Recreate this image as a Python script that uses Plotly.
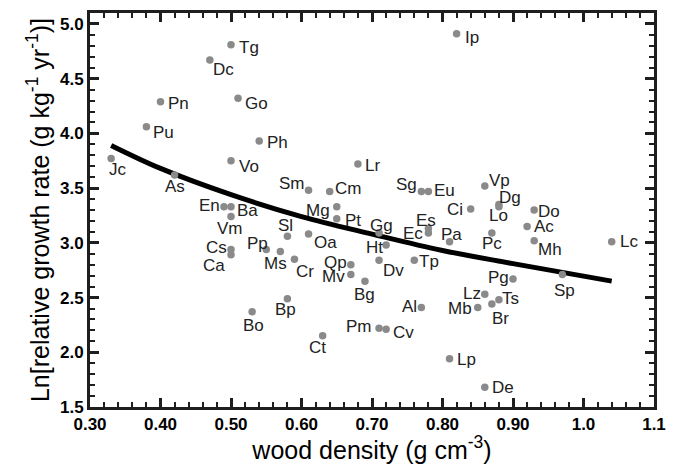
import plotly.graph_objects as go

# ---- data ----
species = ["Jc","Pu","Pn","As","Dc","En","Tg","Vo","Ba","Vm","Cs","Ca","Go","Bo","Ph",
           "Pp","Ms","Sl","Bp","Cr","Sm","Oa","Ct","Cm","Mg","Pt","Qp","Mv","Lr","Bg",
           "Gg","Dv","Pm","Ht","Cv","Tp","Sg","Al","Eu","Es","Ec","Pa","Lp","Ip","Ci",
           "Mb","Vp","Lz","De","Pc","Br","Dg","Lo","Ts","Pg","Ac","Do","Mh","Sp","Lc"]
wood_density = [0.33,0.38,0.40,0.42,0.47,0.49,0.50,0.50,0.50,0.50,0.50,0.50,0.51,0.53,0.54,
                0.55,0.57,0.58,0.58,0.59,0.61,0.61,0.63,0.64,0.65,0.65,0.67,0.67,0.68,0.69,
                0.71,0.71,0.71,0.72,0.72,0.76,0.77,0.77,0.78,0.78,0.78,0.81,0.81,0.82,0.84,
                0.85,0.86,0.86,0.86,0.87,0.87,0.88,0.88,0.88,0.90,0.92,0.93,0.93,0.97,1.04]
ln_rgr = [3.77,4.06,4.29,3.62,4.67,3.33,4.81,3.75,3.33,3.24,2.94,2.89,4.32,2.37,3.93,
          2.94,2.92,3.06,2.49,2.85,3.48,3.08,2.15,3.47,3.33,3.22,2.80,2.71,3.72,2.65,
          3.09,2.84,2.22,2.98,2.21,2.84,3.47,2.41,3.47,3.13,3.09,3.01,1.94,4.91,3.31,
          2.41,3.52,2.53,1.68,3.09,2.44,3.35,3.33,2.48,2.67,3.15,3.30,3.02,2.71,3.01]

fit_x = [0.33, 0.40, 0.50, 0.60, 0.70, 0.80, 0.90, 1.04]
fit_y = [3.89, 3.68, 3.44, 3.24, 3.08, 2.93, 2.81, 2.65]

x_tick_values = [0.3, 0.4, 0.5, 0.6, 0.7, 0.8, 0.9, 1.0, 1.1]
x_tick_labels = ["0.30","0.40","0.50","0.60","0.70","0.80","0.90","1.0","1.1"]
y_tick_values = [1.5, 2.0, 2.5, 3.0, 3.5, 4.0, 4.5, 5.0]
y_tick_labels = ["1.5","2.0","2.5","3.0","3.5","4.0","4.5","5.0"]

# label offsets (pixels, label centre relative to dot; +dy = downward)
label_offsets = {
    "Jc":(7,11),"Pu":(17,6),"Pn":(18,2),"As":(0,12),"Dc":(14,9),"En":(-14,-1),"Tg":(18,3),
    "Vo":(18,6),"Ba":(16,4),"Vm":(-1,12),"Cs":(-15,-2),"Ca":(-17,11),"Go":(18,5),"Bo":(1,14),
    "Ph":(18,1),"Pp":(-9,-6),"Ms":(-5,12),"Sl":(-2,-11),"Bp":(-2,11),"Cr":(11,12),"Sm":(-17,-7),
    "Oa":(17,8),"Ct":(-5,12),"Cm":(18,-3),"Mg":(-19,4),"Pt":(16,2),"Qp":(-15,-2),"Mv":(-17,2),
    "Lr":(15,1),"Bg":(0,13),"Gg":(2,-7),"Dv":(14,10),"Pm":(-20,-2),"Ht":(-12,2),"Cv":(17,3),
    "Tp":(15,1),"Sg":(-15,-7),"Al":(-12,-1),"Eu":(16,-1),"Es":(-2,-8),"Ec":(-15,1),"Pa":(2,-7),
    "Lp":(17,1),"Ip":(15,4),"Ci":(-16,1),"Mb":(-18,1),"Vp":(15,-5),"Lz":(-13,-1),"De":(18,0),
    "Pc":(0,11),"Br":(9,14),"Dg":(11,-7),"Lo":(0,9),"Ts":(12,-1),"Pg":(-15,-1),"Ac":(17,0),
    "Do":(15,1),"Mh":(16,9),"Sp":(2,16),"Lc":(17,0),
}

FONT = "Liberation Sans"
FRAME = "#1e1e1e"

fig = go.Figure()
fig.add_trace(go.Scatter(x=fit_x, y=fit_y, mode="lines",
                         line=dict(color="black", width=5, shape="spline"),
                         hoverinfo="skip", showlegend=False))
fig.add_trace(go.Scatter(x=wood_density, y=ln_rgr, mode="markers", text=species,
                         marker=dict(color="#8a8a8a", size=7.5),
                         showlegend=False))

for name, xv, yv in zip(species, wood_density, ln_rgr):
    dx, dy = label_offsets[name]
    fig.add_annotation(x=xv, y=yv, text=name, showarrow=False,
                       xanchor="center", yanchor="middle", xshift=dx, yshift=-dy,
                       font=dict(family=FONT, size=17, color="#222222"))

fig.update_xaxes(range=[0.30, 1.1], showline=True, linecolor=FRAME, linewidth=3,
                 mirror="allticks", ticks="inside", ticklen=9, tickwidth=2.5,
                 tickcolor=FRAME, showgrid=False, zeroline=False,
                 tickvals=x_tick_values, ticktext=["<b>%s</b>" % t for t in x_tick_labels],
                 tickfont=dict(family=FONT, size=17, color="black"),
                 minor=dict(dtick=0.02, tick0=0.3, ticks="inside", ticklen=5,
                            tickwidth=2, tickcolor=FRAME),
                 title=dict(text="wood density (g cm<sup>-3</sup>)",
                            font=dict(family=FONT, size=25, color="black"), standoff=2))
fig.update_yaxes(range=[1.5, 5.1], showline=True, linecolor=FRAME, linewidth=3,
                 mirror="allticks", ticks="inside", ticklen=9, tickwidth=2.5,
                 tickcolor=FRAME, showgrid=False, zeroline=False,
                 tickvals=y_tick_values, ticktext=["<b>%s</b>" % t for t in y_tick_labels],
                 tickfont=dict(family=FONT, size=17, color="black"),
                 minor=dict(dtick=0.1, tick0=1.5, ticks="inside", ticklen=5,
                            tickwidth=2, tickcolor=FRAME),
                 title=dict(text="Ln[relative growth rate (g kg<sup>-1</sup> yr<sup>-1</sup>)]",
                            font=dict(family=FONT, size=25, color="black"), standoff=4))

fig.update_layout(width=676, height=464,
                  margin=dict(l=90, r=21, t=10, b=57),
                  plot_bgcolor="white")

fig.write_html("out.html", config={"displayModeBar": False},
               post_script="document.body.style.margin='0';")
